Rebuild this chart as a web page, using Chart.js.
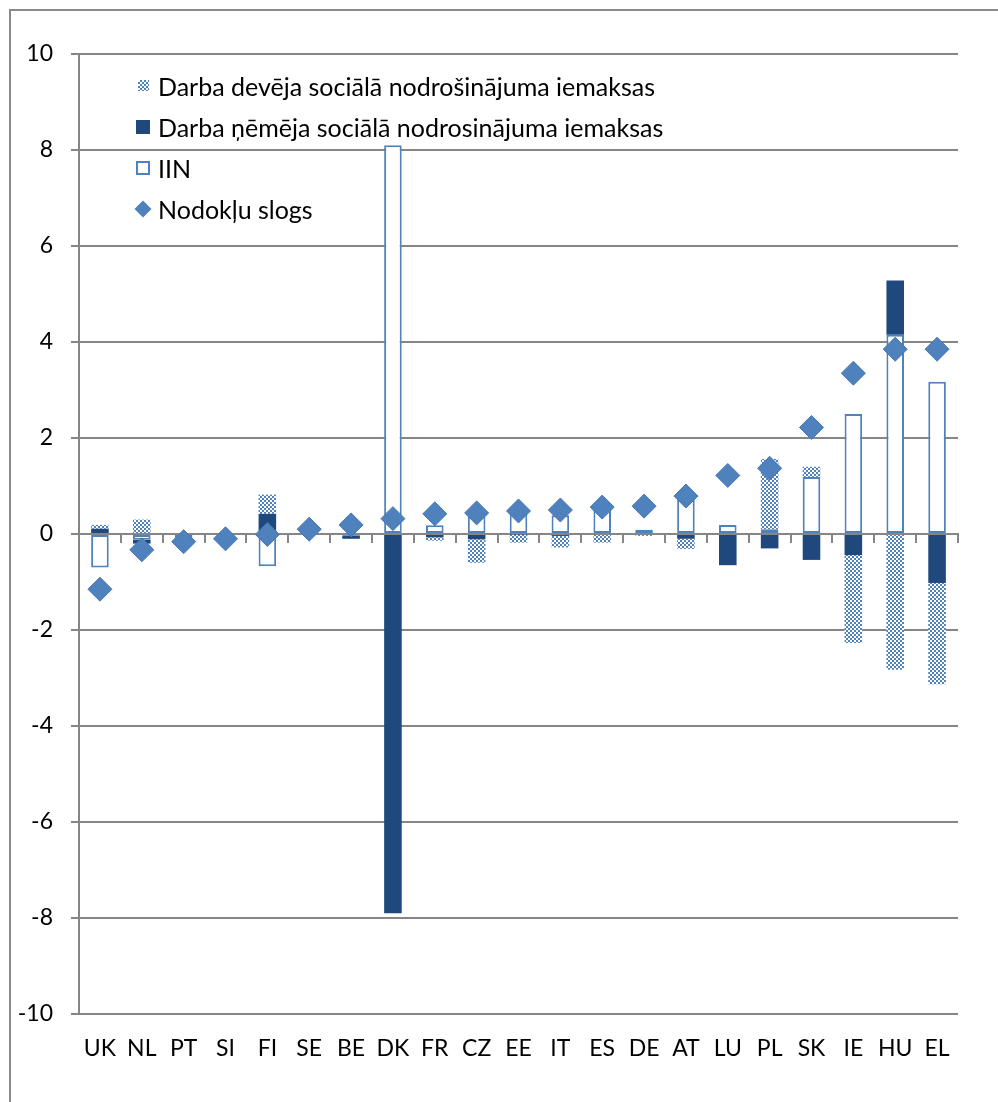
<!DOCTYPE html>
<html>
<head>
<meta charset="utf-8">
<script src="https://cdn.jsdelivr.net/npm/chart.js@4.4.1/dist/chart.umd.min.js"></script>
<style>
  html, body { margin: 0; padding: 0; background: #fff; }
  #wrap { position: relative; width: 998px; height: 1102px; overflow: hidden; }
  #frame { position: absolute; left: 9px; top: 9px; width: 1100px; height: 1200px; border: 2px solid #8a8a8a; box-sizing: border-box; }
  #chart { position: absolute; left: 0; top: 0; }
  #legend { position: absolute; left: 134px; top: 65px; font-family: Lato, sans-serif; font-size: 25px; color: #000; }
  .item { height: 41px; display: flex; align-items: center; white-space: nowrap; }
  .box { width: 18px; height: 18px; margin-right: 6px; display: flex; align-items: center; justify-content: center; }
  .sw { box-sizing: border-box; }
  .checker { width: 11px; height: 11px; background-image: repeating-conic-gradient(#4F81BD 0 25%, #fff 0 50%); background-size: 4px 4px; }
  .dark { width: 14px; height: 14px; background: #1F497D; }
  .hollow { width: 14px; height: 14px; background: #fff; border: 2px solid #4F81BD; }
  .diamond { width: 12px; height: 12px; background: #4F81BD; transform: rotate(45deg); }
</style>
</head>
<body>
<div id="wrap">
  <div id="frame"></div>
  <canvas id="chart" width="998" height="1102"></canvas>
  <div id="legend"></div>
</div>
<script>
// country codes along the x axis
var categories = ['UK', 'NL', 'PT', 'SI', 'FI', 'SE', 'BE', 'DK', 'FR', 'CZ', 'EE', 'IT', 'ES', 'DE', 'AT', 'LU', 'PL', 'SK', 'IE', 'HU', 'EL'];

// IIN (personal income tax)
var iin = [-0.7, -0.12, -0.08, -0.03, -0.67, 0, -0.03, 8.1, 0.18, 0.38, 0.42, 0.39, 0.5, 0.09, 0.78, 0.19, 0.1, 1.19, 2.5, 4.15, 3.17];
// employee social security contributions
var employeeSSC = [0.11, -0.08, 0, 0, 0.42, 0, -0.07, -7.9, -0.07, -0.11, -0.01, -0.04, 0, 0, -0.1, -0.65, -0.3, -0.54, -0.44, 1.13, -1.02];
// employer social security contributions
var employerSSC = [0.08, 0.3, 0, 0, 0.4, 0, 0, 0, -0.07, -0.49, -0.17, -0.24, -0.18, -0.04, -0.21, 0, 1.46, 0.21, -1.83, -2.83, -2.11];
// tax burden (diamonds)
var taxBurden = [-1.15, -0.33, -0.16, -0.1, -0.01, 0.1, 0.19, 0.32, 0.42, 0.44, 0.48, 0.5, 0.56, 0.58, 0.79, 1.22, 1.37, 2.22, 3.35, 3.85, 3.85];

var yMin = -10, yMax = 10, yStep = 2;

var labels = {
    employer: 'Darba devēja sociālā nodrošinājuma iemaksas',
    employee: 'Darba ņēmēja sociālā nodrosinājuma iemaksas',
    iin: 'IIN',
    burden: 'Nodokļu slogs'
};

var gridColor = '#868686';
var blue = '#4F81BD';
var navy = '#1F497D';

function makeChecker() {
    const c = document.createElement('canvas');
    c.width = 4;
    c.height = 4;
    const g = c.getContext('2d');
    g.fillStyle = '#fff';
    g.fillRect(0, 0, 4, 4);
    g.fillStyle = blue;
    g.fillRect(0, 0, 2, 2);
    g.fillRect(2, 2, 2, 2);
    return g.createPattern(c, 'repeat');
}

function buildLegend() {
    const items = [
        ['checker', labels.employer],
        ['dark', labels.employee],
        ['hollow', labels.iin],
        ['diamond', labels.burden]
    ];
    document.getElementById('legend').innerHTML = items.map(it =>
        `<div class="item"><span class="box"><span class="sw ${it[0]}"></span></span><span>${it[1]}</span></div>`
    ).join('');
}

Chart.defaults.font.family = 'Lato, sans-serif';
Chart.defaults.font.size = 23;
Chart.defaults.color = '#000';

var barCommon = { stack: 'taxes', barPercentage: 0.42, categoryPercentage: 1 };

var chart = new Chart(document.getElementById('chart').getContext('2d'), {
    data: {
        labels: categories,
        datasets: [
            Object.assign({ type: 'bar', label: labels.iin, data: iin, backgroundColor: '#fff', borderColor: blue, borderWidth: 2, borderSkipped: false }, barCommon),
            Object.assign({ type: 'bar', label: labels.employee, data: employeeSSC, backgroundColor: navy, borderWidth: 0 }, barCommon),
            Object.assign({ type: 'bar', label: labels.employer, data: employerSSC, backgroundColor: makeChecker(), borderWidth: 0 }, barCommon),
            {
                type: 'line',
                label: labels.burden,
                data: taxBurden,
                stack: 'burden',
                order: -1,
                showLine: false,
                pointStyle: 'rectRot',
                pointRadius: 12,
                pointHoverRadius: 12,
                pointBackgroundColor: blue,
                pointBorderColor: '#4677B2',
                pointBorderWidth: 1
            }
        ]
    },
    options: {
        responsive: false,
        animation: false,
        layout: { padding: { top: 54, right: 40, left: 0, bottom: 0 } },
        plugins: {
            legend: { display: false },
            tooltip: { enabled: false }
        },
        scales: {
            x: {
                stacked: true,
                grid: { display: false, drawTicks: false },
                border: { display: false },
                ticks: { padding: 21 },
                afterFit: function(scale) { scale.height = 88; }
            },
            // zero line with the small category ticks
            x2: {
                type: 'category',
                position: { y: 0 },
                offset: true,
                grid: { offset: true, drawOnChartArea: false, drawTicks: true, tickLength: 8, color: gridColor, lineWidth: 2 },
                border: { color: gridColor, width: 2 },
                ticks: { display: false },
                afterFit: function(scale) { scale.height = 0; }
            },
            y: {
                stacked: true,
                min: yMin,
                max: yMax,
                ticks: { stepSize: yStep, padding: 18 },
                grid: { color: gridColor, lineWidth: 2, tickLength: 8 },
                border: { color: gridColor, width: 2 },
                afterFit: function(scale) { scale.width = 79; }
            }
        }
    }
});

buildLegend();
</script>
</body>
</html>
